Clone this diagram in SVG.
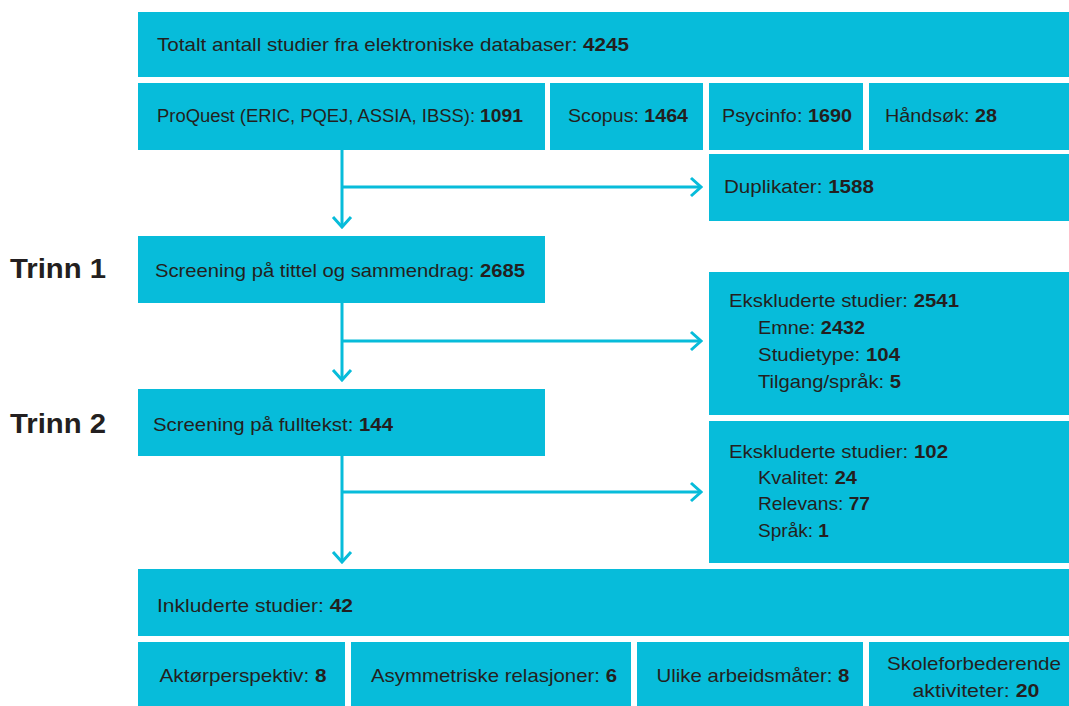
<svg xmlns="http://www.w3.org/2000/svg" width="1069" height="706" viewBox="0 0 1069 706">
<style>
.box{fill:#07bcda}
.t{font-family:"Liberation Sans",Arial,sans-serif;font-size:19px;fill:#231f20}
.b{font-weight:bold}
.s18{font-size:18px}
.trinn{font-family:"Liberation Sans",Arial,sans-serif;font-size:27px;font-weight:bold;fill:#231f20}
.c{text-anchor:middle}
.conn{stroke:#07bcda;stroke-width:3;fill:none}
</style>
<defs>
<marker id="chev" viewBox="-14 -12 16 24" markerWidth="16" markerHeight="24" refX="0" refY="0" orient="auto" markerUnits="userSpaceOnUse">
<path d="M-10,-9 L0,0 L-10,9" fill="none" stroke="#07bcda" stroke-width="3"/>
</marker>
</defs>
<rect width="1069" height="706" fill="#ffffff"/>
<text class="trinn" x="10" y="278" textLength="96" lengthAdjust="spacingAndGlyphs">Trinn 1</text>
<text class="trinn" x="10" y="433" textLength="96" lengthAdjust="spacingAndGlyphs">Trinn 2</text>
<g id="connectors">
<path class="conn" d="M342,150 V227" marker-end="url(#chev)"/>
<path class="conn" d="M342,187 H701" marker-end="url(#chev)"/>
<path class="conn" d="M342,302 V380" marker-end="url(#chev)"/>
<path class="conn" d="M342,341 H701" marker-end="url(#chev)"/>
<path class="conn" d="M342,456 V562" marker-end="url(#chev)"/>
<path class="conn" d="M342,492 H701" marker-end="url(#chev)"/>
</g>
<g id="total"><rect class="box" x="138" y="12" width="931" height="65"/><text class="t" x="157" y="51" textLength="472" lengthAdjust="spacingAndGlyphs">Totalt antall studier fra elektroniske databaser: <tspan class="b">4245</tspan></text></g>
<g id="proquest"><rect class="box" x="138" y="83" width="407" height="67"/><text class="t s18" x="157" y="122" textLength="318" lengthAdjust="spacingAndGlyphs">ProQuest (ERIC, PQEJ, ASSIA, IBSS):</text><text class="t b" x="480" y="122" textLength="43" lengthAdjust="spacingAndGlyphs">1091</text></g>
<g id="scopus"><rect class="box" x="550" y="83" width="153" height="67"/><text class="t" x="568" y="122" textLength="120" lengthAdjust="spacingAndGlyphs">Scopus: <tspan class="b">1464</tspan></text></g>
<g id="psycinfo"><rect class="box" x="709" y="83" width="154" height="67"/><text class="t" x="722" y="122" textLength="130" lengthAdjust="spacingAndGlyphs">Psycinfo: <tspan class="b">1690</tspan></text></g>
<g id="handsok"><rect class="box" x="869" y="83" width="200" height="67"/><text class="t" x="885" y="122" textLength="112" lengthAdjust="spacingAndGlyphs">Håndsøk: <tspan class="b">28</tspan></text></g>
<g id="duplikater"><rect class="box" x="709" y="154" width="360" height="67"/><text class="t" x="724" y="193" textLength="150" lengthAdjust="spacingAndGlyphs">Duplikater: <tspan class="b">1588</tspan></text></g>
<g id="screening1"><rect class="box" x="138" y="236" width="407" height="67"/><text class="t" x="155" y="277" textLength="370" lengthAdjust="spacingAndGlyphs">Screening på tittel og sammendrag: <tspan class="b">2685</tspan></text></g>
<g id="ekskl1"><rect class="box" x="709" y="272" width="360" height="143"/>
<text class="t" x="729" y="307" textLength="230" lengthAdjust="spacingAndGlyphs">Ekskluderte studier: <tspan class="b">2541</tspan></text>
<text class="t" x="758" y="334" textLength="107" lengthAdjust="spacingAndGlyphs">Emne: <tspan class="b">2432</tspan></text>
<text class="t" x="758" y="361" textLength="142" lengthAdjust="spacingAndGlyphs">Studietype: <tspan class="b">104</tspan></text>
<text class="t" x="758" y="388" textLength="143" lengthAdjust="spacingAndGlyphs">Tilgang/språk: <tspan class="b">5</tspan></text></g>
<g id="screening2"><rect class="box" x="138" y="389" width="407" height="67"/><text class="t" x="153" y="431" textLength="240" lengthAdjust="spacingAndGlyphs">Screening på fulltekst: <tspan class="b">144</tspan></text></g>
<g id="ekskl2"><rect class="box" x="709" y="421" width="360" height="142"/>
<text class="t" x="729" y="458" textLength="219" lengthAdjust="spacingAndGlyphs">Ekskluderte studier: <tspan class="b">102</tspan></text>
<text class="t" x="758" y="484" textLength="99" lengthAdjust="spacingAndGlyphs">Kvalitet: <tspan class="b">24</tspan></text>
<text class="t" x="758" y="510" textLength="112" lengthAdjust="spacingAndGlyphs">Relevans: <tspan class="b">77</tspan></text>
<text class="t" x="758" y="537" textLength="71" lengthAdjust="spacingAndGlyphs">Språk: <tspan class="b">1</tspan></text></g>
<g id="inkluderte"><rect class="box" x="138" y="569" width="931" height="67"/><text class="t" x="157" y="612" textLength="196" lengthAdjust="spacingAndGlyphs">Inkluderte studier: <tspan class="b">42</tspan></text></g>
<g id="aktor"><rect class="box" x="138" y="642" width="207" height="64"/><text class="t c" x="243" y="682" textLength="167" lengthAdjust="spacingAndGlyphs">Aktørperspektiv: <tspan class="b">8</tspan></text></g>
<g id="asym"><rect class="box" x="351" y="642" width="280" height="64"/><text class="t c" x="494" y="682" textLength="246" lengthAdjust="spacingAndGlyphs">Asymmetriske relasjoner: <tspan class="b">6</tspan></text></g>
<g id="ulike"><rect class="box" x="637" y="642" width="226" height="64"/><text class="t c" x="753" y="682" textLength="193" lengthAdjust="spacingAndGlyphs">Ulike arbeidsmåter: <tspan class="b">8</tspan></text></g>
<g id="skole"><rect class="box" x="869" y="642" width="200" height="64"/><text class="t c" x="974" y="670" textLength="174" lengthAdjust="spacingAndGlyphs">Skoleforbederende</text><text class="t c" x="976" y="697" textLength="127" lengthAdjust="spacingAndGlyphs">aktiviteter: <tspan class="b">20</tspan></text></g>
</svg>
